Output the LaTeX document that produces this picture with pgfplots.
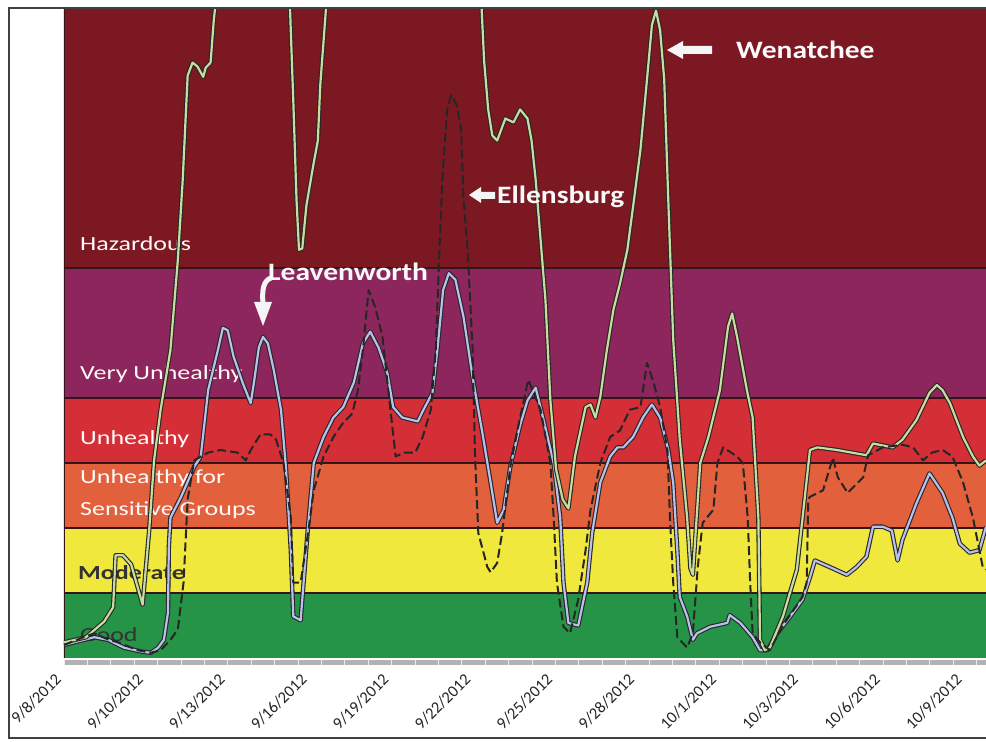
\documentclass[border=0pt]{standalone}
\usepackage{pgfplots}
\pgfplotsset{compat=1.18}
\usepackage{pgfplotstable}
\usepackage{fontspec}
\setmainfont{Carlito}
\newfontfamily\wide[FakeStretch=1.3]{Carlito}
\newfontfamily\wideb[FakeStretch=1.18]{Carlito}

\definecolor{haz}{RGB}{124,24,34}
\definecolor{vu}{RGB}{140,38,92}
\definecolor{unh}{RGB}{212,46,54}
\definecolor{usg}{RGB}{226,96,60}
\definecolor{mod}{RGB}{240,232,60}
\definecolor{good}{RGB}{38,148,70}
\definecolor{wgreen}{RGB}{200,220,160}
\definecolor{lblue}{RGB}{185,192,235}
\definecolor{bandline}{RGB}{50,20,25}

\pgfplotstableread{
x y
0 12
0.27 16
0.49 28
0.60 39
0.63 79
0.72 79
0.82 72
0.96 41
1.04 98
1.10 152
1.18 191
1.30 237
1.39 306
1.45 368
1.51 448
1.57 458
1.63 455
1.70 447
1.73 454
1.79 458
1.83 491
1.87 514
2.28 622
2.72 514
2.76 500
2.80 429
2.84 352
2.87 314
2.91 315
2.96 348
3.05 381
3.10 398
3.13 441
3.20 500
3.23 514
4.11 622
5.06 514
5.10 500
5.13 460
5.18 422
5.23 402
5.29 398
5.39 415
5.49 412
5.57 422
5.66 415
5.71 398
5.76 368
5.82 322
5.88 275
5.94 198
6.01 145
6.09 122
6.16 115
6.24 155
6.37 193
6.43 195
6.49 185
6.55 201
6.63 237
6.71 268
6.79 288
6.88 314
6.96 352
7.04 391
7.13 452
7.18 487
7.23 498
7.28 483
7.33 445
7.38 352
7.44 245
7.52 168
7.61 108
7.65 69
7.68 64
7.77 150
7.87 170
8.01 206
8.11 255
8.16 265
8.22 247
8.34 206
8.41 185
8.48 108
8.50 14
8.56 6
8.62 8
8.78 32
8.95 68
9.02 108
9.11 160
9.20 162
9.44 160
9.80 156
9.88 165
10.12 162
10.24 168
10.41 183
10.57 204
10.66 210
10.73 206
10.82 196
10.98 170
11.10 155
11.18 148
11.26 152
}\wenatchee

\pgfplotstableread{
x y
0 10
0.24 16
0.37 19
0.51 15
0.66 12
0.90 6
1.06 4
1.18 6
1.30 14
1.39 22
1.46 58
1.51 122
1.59 152
1.76 158
1.91 160
2.12 158
2.22 152
2.28 160
2.40 172
2.52 172
2.59 168
2.68 150
2.77 108
2.80 58
2.89 58
2.98 96
3.05 129
3.17 155
3.29 170
3.41 181
3.52 188
3.59 206
3.65 237
3.72 283
3.80 270
3.89 247
3.96 206
4.05 155
4.15 158
4.29 158
4.38 170
4.48 191
4.54 237
4.57 288
4.62 368
4.68 422
4.73 433
4.80 425
4.85 406
4.88 352
4.93 314
4.99 237
5.02 155
5.06 96
5.17 70
5.21 66
5.29 73
5.35 96
5.45 147
5.57 185
5.67 214
5.82 191
5.94 150
5.98 108
6.02 58
6.10 24
6.18 19
6.28 45
6.37 83
6.43 114
6.55 150
6.67 170
6.79 175
6.91 191
7.04 193
7.12 227
7.20 212
7.28 193
7.37 160
7.40 108
7.44 58
7.49 16
7.61 8
7.68 19
7.74 70
7.80 104
7.93 114
7.98 150
8.05 162
8.22 155
8.29 150
8.35 108
8.38 58
8.41 19
8.50 12
8.62 6
8.78 25
9.02 47
9.07 58
9.09 122
9.11 124
9.27 129
9.39 154
9.45 139
9.57 127
9.76 139
9.82 156
10.00 162
10.24 164
10.37 162
10.49 152
10.60 158
10.73 160
10.85 155
10.98 135
11.10 108
11.22 70
11.26 68
}\ellensburg

\pgfplotstableread{
x y
0 10
0.12 12
0.37 16
0.54 14
0.73 8
0.94 5
1.06 4
1.15 8
1.22 14
1.27 35
1.28 85
1.30 108
1.43 124
1.59 147
1.67 155
1.76 206
1.88 237
1.94 254
2.00 252
2.07 232
2.18 212
2.28 196
2.32 212
2.38 239
2.43 247
2.49 242
2.56 222
2.65 191
2.71 147
2.77 83
2.80 32
2.89 29
2.98 101
3.05 150
3.17 170
3.29 185
3.41 193
3.54 212
3.65 242
3.74 251
3.84 239
3.95 219
4.02 193
4.13 185
4.32 182
4.39 191
4.50 204
4.56 237
4.63 283
4.70 296
4.78 291
4.88 262
4.99 216
5.11 173
5.21 135
5.29 104
5.37 114
5.45 147
5.57 179
5.66 198
5.76 208
5.85 185
5.98 150
6.06 108
6.10 58
6.16 27
6.28 25
6.39 58
6.45 96
6.55 135
6.67 155
6.76 162
6.83 162
6.95 170
7.07 185
7.18 195
7.28 185
7.38 160
7.44 135
7.49 83
7.52 47
7.61 32
7.68 14
7.73 19
7.89 24
8.10 27
8.13 33
8.26 27
8.41 16
8.50 6
8.59 6
8.71 19
8.87 32
9.02 45
9.11 62
9.17 75
9.35 70
9.56 64
9.68 70
9.80 78
9.88 101
10.00 101
10.11 98
10.18 75
10.24 91
10.41 119
10.57 142
10.73 127
10.85 108
10.94 88
11.06 81
11.18 83
11.26 101
}\leavenworth

\begin{document}
\begin{tikzpicture}
\useasboundingbox (0,0) rectangle (986pt,742pt);
\fill[white] (0,0) rectangle (986pt,742pt);
\begin{axis}[
  at={(64pt,84pt)}, anchor=south west,
  scale only axis, width=922pt, height=650pt,
  xmin=0, xmax=11.26, ymin=0, ymax=500,
  separate axis lines,
  axis x line*=bottom, axis y line=none,
  x axis line style={draw=none},
  ytick=\empty,
  xtick={0,1,2,3,4,5,6,7,8,9,10,11},
  xticklabels={9/8/2012,9/10/2012,9/13/2012,9/16/2012,9/19/2012,9/22/2012,9/25/2012,9/28/2012,10/1/2012,10/3/2012,10/6/2012,10/9/2012},
  major tick length=0pt,
  xticklabel style={yshift=-14pt, xshift=-10pt, rotate=45, anchor=north east, inner sep=0pt, font=\fontsize{16.5}{18}\selectfont, text=black!85},
]
% AQI bands
\fill[good] (axis cs:0,0) rectangle (axis cs:11.26,50);
\fill[mod] (axis cs:0,50) rectangle (axis cs:11.26,100);
\fill[usg] (axis cs:0,100) rectangle (axis cs:11.26,150);
\fill[unh] (axis cs:0,150) rectangle (axis cs:11.26,200);
\fill[vu] (axis cs:0,200) rectangle (axis cs:11.26,300);
\fill[haz] (axis cs:0,300) rectangle (axis cs:11.26,500);
\draw[bandline, line width=1.3pt] (axis cs:0,50) -- (axis cs:11.26,50);
\draw[bandline, line width=1.3pt] (axis cs:0,100) -- (axis cs:11.26,100);
\draw[bandline, line width=1.3pt] (axis cs:0,150) -- (axis cs:11.26,150);
\draw[bandline, line width=1.3pt] (axis cs:0,200) -- (axis cs:11.26,200);
\draw[bandline, line width=1.3pt] (axis cs:0,300) -- (axis cs:11.26,300);
\draw[bandline, line width=1.2pt] (axis cs:0,0) -- (axis cs:0,500);
% band labels
\node[anchor=west, inner sep=0pt, text=white!92!pink, font=\wide\fontsize{20}{24}\selectfont] at (axis cs:0.195,319) {Hazardous};
\node[anchor=west, inner sep=0pt, text=white!92!pink, font=\wide\fontsize{20}{24}\selectfont] at (axis cs:0.195,218) {Very Unhealthy};
\node[anchor=west, inner sep=0pt, text=white!92!pink, font=\wide\fontsize{20}{24}\selectfont] at (axis cs:0.195,168) {Unhealthy};
\node[anchor=west, inner sep=0pt, align=left, text=white!92!pink, font=\wide\fontsize{20}{32}\selectfont] at (axis cs:0.195,126) {Unhealthy for\\Sensitive Groups};
\node[anchor=west, inner sep=0pt, text=black!80, font=\wide\bfseries\fontsize{20}{24}\selectfont] at (axis cs:0.17,66) {Moderate};
\node[anchor=west, inner sep=0pt, text=black!80, font=\wide\fontsize{20}{24}\selectfont] at (axis cs:0.195,18) {Good};
% Leavenworth
\addplot[black!85, line width=4.4pt, line join=round] table {\leavenworth};
\addplot[lblue, line width=2.2pt, line join=round] table {\leavenworth};
% Wenatchee
\addplot[black!85, line width=4.4pt, line join=round] table {\wenatchee};
\addplot[wgreen, line width=2.2pt, line join=round] table {\wenatchee};
% Ellensburg
\addplot[black!85, line width=2pt, line join=round, dash pattern=on 9pt off 4pt] table {\ellensburg};
\end{axis}
% tick stripe
\fill[gray!60] (64pt,82pt) rectangle (986pt,77pt);
\foreach \i in {0,...,39}{
  \draw[white!85!gray, line width=0.8pt] ({64pt+23.4pt*\i},77pt) -- ++(0,5pt);
}
% frame
\draw[black!75, line width=1.5pt] (995pt,4pt) -- (9pt,4pt) -- (9pt,734pt) -- (995pt,734pt);
% annotations
\node[anchor=west, inner sep=0pt, text=white!95!gray, font=\wideb\bfseries\fontsize{25}{28}\selectfont] at (736pt,692pt) {Wenatchee};
\fill[white!92!gray] (667pt,692pt) -- (683pt,701pt) -- (683pt,696pt) -- (712pt,696pt) -- (712pt,688pt) -- (683pt,688pt) -- (683pt,683pt) -- cycle;
\node[anchor=west, inner sep=0pt, text=white!95!gray, font=\wideb\bfseries\fontsize{25}{28}\selectfont] at (497pt,545pt) {Ellensburg};
\fill[white!92!gray] (469pt,547pt) -- (481pt,555pt) -- (481pt,550pt) -- (495pt,550pt) -- (495pt,543pt) -- (481pt,543pt) -- (481pt,539pt) -- cycle;
\node[anchor=west, inner sep=0pt, text=white!95!gray, font=\wideb\bfseries\fontsize{25}{28}\selectfont] at (268pt,470pt) {Leavenworth};
\draw[white!92!gray, line width=5pt] (271pt,464pt) .. controls (263pt,461pt) and (262pt,452pt) .. (263pt,438pt);
\fill[white!92!gray] (254pt,440pt) -- (272pt,440pt) -- (263pt,416pt) -- cycle;
\end{tikzpicture}
\end{document}
